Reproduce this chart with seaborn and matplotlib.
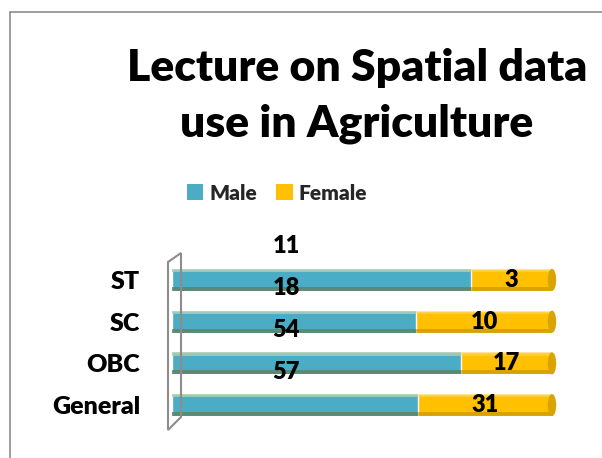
import matplotlib
matplotlib.use("Agg")
import matplotlib.pyplot as plt
import seaborn as sns
import pandas as pd
from matplotlib.patches import Polygon, Rectangle, Ellipse

categories = ["ST", "SC", "OBC", "General"]
male = [11, 18, 54, 57]
female = [3, 10, 17, 31]
series = ["Male", "Female"]
colors = {"Male": "#4BACC6", "Female": "#FFC000"}
title = "Lecture on Spatial data\nuse in Agriculture"

sns.set_theme(style="white")
plt.rcParams["font.family"] = ["Lato", "DejaVu Sans"]
plt.rcParams["font.weight"] = 800
WEIGHT = 800

W, H = 602, 458
fig = plt.figure(figsize=(W / 100, H / 100), dpi=100)

def fx(px):
    return px / W

def fy(py):
    return 1 - py / H

# chart area border
fig.patches.append(Rectangle((fx(10), fy(470)), fx(620) - fx(10), fy(12) - fy(470),
                             transform=fig.transFigure, fill=False,
                             edgecolor="#8c8c8c", linewidth=1.2))

# 3D side wall
wall = Polygon([(fx(168), fy(262)), (fx(181), fy(253)), (fx(181), fy(417)), (fx(168), fy(430))],
               closed=True, transform=fig.transFigure, fill=False,
               edgecolor="#8c8c8c", linewidth=1.5)
fig.patches.append(wall)

ax = fig.add_axes([fx(172), fy(426), fx(552) - fx(172), fy(259) - fy(426)])

totals = [m + f for m, f in zip(male, female)]
df = pd.DataFrame({
    "category": categories,
    "male_share": [m / t for m, t in zip(male, totals)],
    "total_share": [1.0] * len(categories),
})

sns.barplot(data=df, y="category", x="total_share", orient="h", color=colors["Female"],
            saturation=1, width=0.53, ax=ax, order=categories)
sns.barplot(data=df, y="category", x="male_share", orient="h", color=colors["Male"],
            saturation=1, width=0.53, ax=ax, order=categories)

# cylinder-ish shading: lighter top, darker lower edge, end caps
bars = list(ax.patches)
for p in bars:
    x0, y0 = p.get_x(), p.get_y()
    w, h = p.get_width(), p.get_height()
    fc = p.get_facecolor()
    dark = tuple(c * 0.72 for c in fc[:3])
    light = tuple(min(1, c + (1 - c) * 0.35) for c in fc[:3])
    ax.add_patch(Rectangle((x0, y0 + h * 0.82), w, h * 0.18, facecolor=dark,
                           edgecolor="none", alpha=0.55, zorder=p.get_zorder() + 0.1))
    ax.add_patch(Rectangle((x0, y0), w, h * 0.15, facecolor=light,
                           edgecolor="none", alpha=0.6, zorder=p.get_zorder() + 0.1))
    if x0 + w > 0.999:
        ax.add_patch(Ellipse((1.0, y0 + h / 2), 0.022, h, facecolor=tuple(c * 0.85 for c in fc[:3]),
                             edgecolor="none", zorder=p.get_zorder() + 0.2, clip_on=False))

ax.set_xlim(0, 1)
ax.set_ylim(3.5, -0.5)
ax.set_xlabel("")
ax.set_ylabel("")
ax.set_xticks([])
for s in ax.spines.values():
    s.set_visible(False)
ax.tick_params(axis="y", length=0, pad=23, labelsize=18)
for lbl in ax.get_yticklabels():
    lbl.set_fontweight(WEIGHT)
    lbl.set_color("black")

# data labels
for i, cat in enumerate(categories):
    share = male[i] / totals[i]
    ax.text(0.30, i - 0.8, str(male[i]), ha="center", va="center",
            fontsize=17, fontweight=WEIGHT, color="black")
    ax.text(share + (1 - share) / 2, i, str(female[i]), ha="center", va="center",
            fontsize=17, fontweight=WEIGHT, color="black")

# title
fig.text(fx(357), fy(96), title, ha="center", va="center", fontsize=32,
         fontweight=WEIGHT, linespacing=1.45, color="black")

# legend
handles = [Rectangle((0, 0), 1, 1, facecolor=colors[s], edgecolor="none") for s in series]
fig.legend(handles, series, loc="center", bbox_to_anchor=(fx(277), fy(193)), ncol=2,
           frameon=False, handlelength=0.8, handleheight=0.8,
           handletextpad=0.3, columnspacing=0.9, prop={"weight": WEIGHT, "size": 15})

fig.savefig("out.png", dpi=100)
